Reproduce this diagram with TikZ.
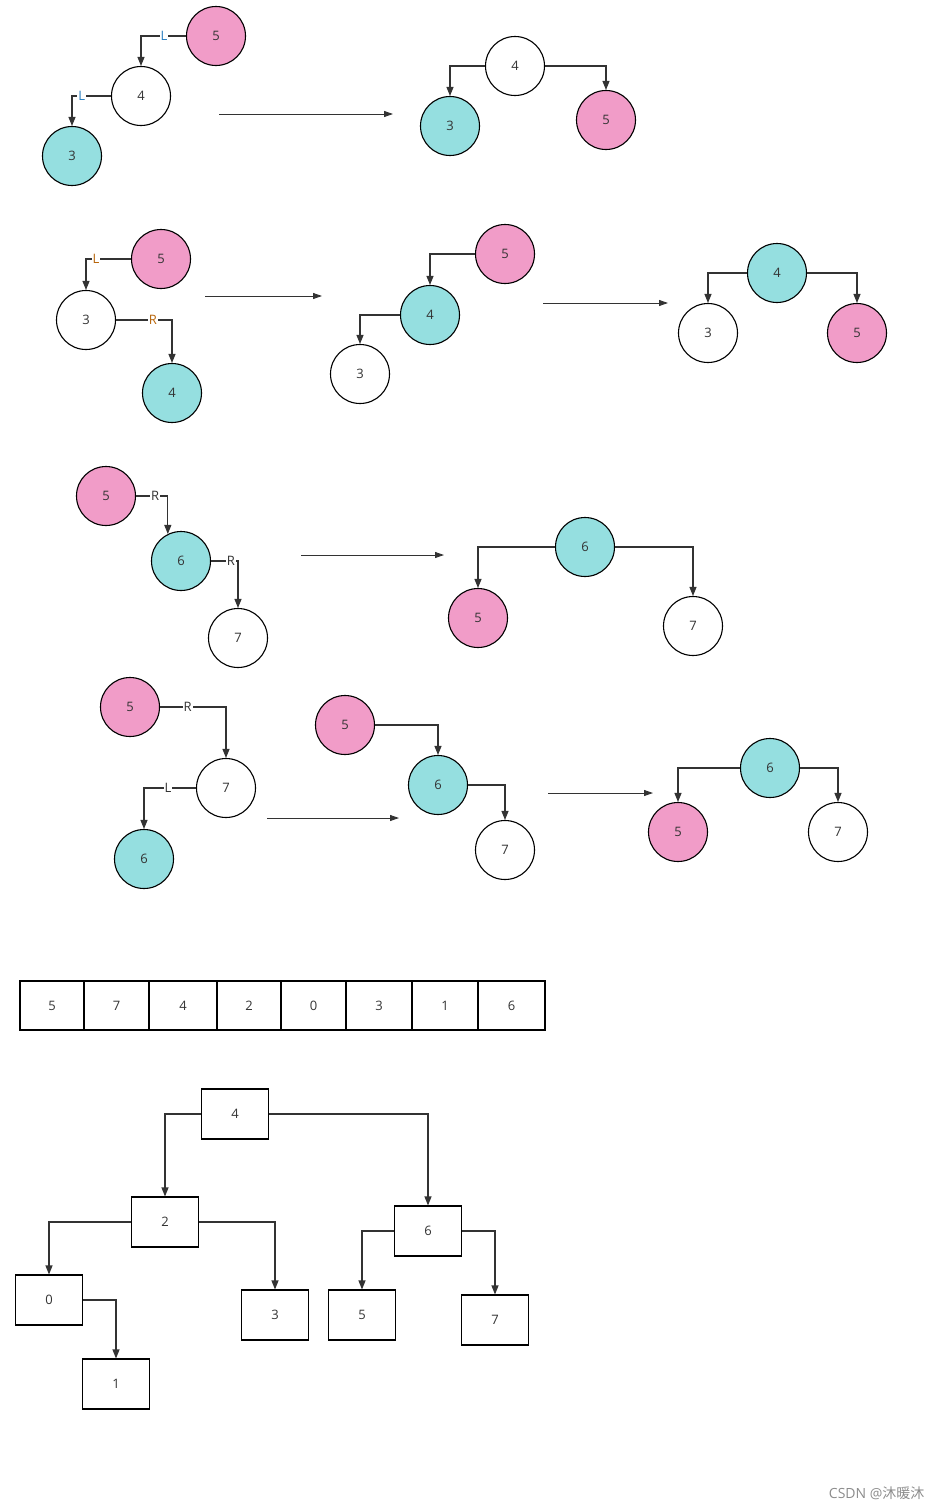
\documentclass[tikz,border=0pt]{standalone}
\usepackage{fontspec}
\setmainfont{Open Sans}
\newfontfamily\cjkfont{Noto Sans CJK SC}
\usetikzlibrary{arrows.meta}
\definecolor{pinkc}{HTML}{F19CC8}
\definecolor{cyanc}{HTML}{95DFE0}
\definecolor{linec}{HTML}{333333}
\definecolor{lblue}{HTML}{2A7FC0}
\definecolor{lorange}{HTML}{B8650A}
\begin{document}
\begin{tikzpicture}[x=1pt,y=-1pt,
  font=\fontsize{13}{15}\selectfont, text=linec,
  tn/.style={circle,draw=black,line width=1.1pt,minimum size=59pt,inner sep=0pt},
  pk/.style={tn,fill=pinkc},
  cy/.style={tn,fill=cyanc},
  wt/.style={tn,fill=white},
  bx/.style={rectangle,draw=black,line width=1.1pt,minimum width=67pt,minimum height=50pt,inner sep=0pt},
  cell/.style={rectangle,draw=black,line width=1.1pt,minimum height=49pt,inner sep=0pt},
  ed/.style={draw=linec,line width=1.1pt,-{Triangle[length=9pt,width=7pt]}},
  big/.style={draw=linec,line width=0.9pt,-{Triangle[length=9pt,width=6pt]}},
  lb/.style={fill=white,inner sep=1pt,font=\fontsize{13}{15}\selectfont}
]
\useasboundingbox (0,0) rectangle (942,1510);

% ---------- group 1
\node[pk] (a5) at (216,36) {5};
\node[wt] (a4) at (141,96) {4};
\node[cy] (a3) at (72,156) {3};
\draw[ed] (a5.west) -| node[lb,pos=0.245,text=lblue] {L} (a4.north);
\draw[ed] (a4.west) -| node[lb,pos=0.375,text=lblue] {L} (a3.north);
\coordinate (ar1s) at (219,114); \coordinate (ar1e) at (393,114);
\draw[big] (ar1s) -- (ar1e);
\node[wt] (b4) at (515,66) {4};
\node[cy] (b3) at (450,126) {3};
\node[pk] (b5) at (606,120) {5};
\draw[ed] (b4.west) -| (b3.north);
\draw[ed] (b4.east) -| (b5.north);

% ---------- group 2
\node[pk] (c5) at (161,259) {5};
\node[wt] (c3) at (86,320) {3};
\node[cy] (c4) at (172,393) {4};
\draw[ed] (c5.west) -| node[lb,pos=0.39,text=lorange] {L} (c3.north);
\draw[ed] (c3.east) -| node[lb,pos=0.33,text=lorange] {R} (c4.north);
\coordinate (ar2s) at (205,296); \coordinate (ar2e) at (322,296);
\draw[big] (ar2s) -- (ar2e);
\node[pk] (d5) at (505,254) {5};
\node[cy] (d4) at (430,315) {4};
\node[wt] (d3) at (360,374) {3};
\draw[ed] (d5.west) -| (d4.north);
\draw[ed] (d4.west) -| (d3.north);
\coordinate (ar3s) at (543,303); \coordinate (ar3e) at (668,303);
\draw[big] (ar3s) -- (ar3e);
\node[cy] (e4) at (777,273) {4};
\node[wt] (e3) at (708,333) {3};
\node[pk] (e5) at (857,333) {5};
\draw[ed] (e4.west) -| (e3.north);
\draw[ed] (e4.east) -| (e5.north);

% ---------- group 3
\node[pk] (f5) at (106,496) {5};
\node[cy] (f6) at (181,561) {6};
\node[wt] (f7) at (238,638) {7};
\draw[ed] (f5.east) -| node[lb,pos=0.3] {R} (f6.116);
\draw[ed] (f6.east) -| node[lb,pos=0.37] {R} (f7.north);
\coordinate (ar4s) at (301,555); \coordinate (ar4e) at (444,555);
\draw[big] (ar4s) -- (ar4e);
\node[cy] (g6) at (585,547) {6};
\node[pk] (g5) at (478,618) {5};
\node[wt] (g7) at (693,626) {7};
\draw[ed] (g6.west) -| (g5.north);
\draw[ed] (g6.east) -| (g7.north);

% ---------- group 4
\node[pk] (h5) at (130,707) {5};
\node[wt] (h7) at (226,788) {7};
\node[cy] (h6) at (144,859) {6};
\draw[ed] (h5.east) -| node[lb,pos=0.21] {R} (h7.north);
\draw[ed] (h7.west) -| node[lb,pos=0.27] {L} (h6.north);
\coordinate (ar5s) at (267,818); \coordinate (ar5e) at (399,818);
\draw[big] (ar5s) -- (ar5e);
\node[pk] (i5) at (345,725) {5};
\node[cy] (i6) at (438,785) {6};
\node[wt] (i7) at (505,850) {7};
\draw[ed] (i5.east) -| (i6.north);
\draw[ed] (i6.east) -| (i7.north);
\coordinate (ar6s) at (548,793); \coordinate (ar6e) at (653,793);
\draw[big] (ar6s) -- (ar6e);
\node[cy] (j6) at (770,768) {6};
\node[pk] (j5) at (678,832) {5};
\node[wt] (j7) at (838,832) {7};
\draw[ed] (j6.west) -| (j5.north);
\draw[ed] (j6.east) -| (j7.north);

% ---------- array
\foreach \xa/\xb/\v [count=\i] in {20/84/5,84/149/7,149/217/4,217/281/2,281/346/0,346/412/3,412/478/1,478/545/6}{
  \node[cell,minimum width={\xb-\xa}] (arr\i) at ({(\xa+\xb)/2},1005.5) {\v};
}

% ---------- bottom tree
\node[bx] (t4) at (235,1114) {4};
\node[bx] (t2) at (165,1222) {2};
\node[bx] (t6) at (428,1231) {6};
\node[bx] (t0) at (49,1300) {0};
\node[bx] (t3) at (275,1315) {3};
\node[bx] (t5) at (362,1315) {5};
\node[bx] (t7) at (495,1320) {7};
\node[bx] (t1) at (116,1384) {1};
\draw[ed] (t4.west) -| (t2.north);
\draw[ed] (t4.east) -| (t6.north);
\draw[ed] (t2.west) -| (t0.north);
\draw[ed] (t2.east) -| (t3.north);
\draw[ed] (t6.west) -| (t5.north);
\draw[ed] (t6.east) -| (t7.north);
\draw[ed] (t0.east) -| (t1.north);

% ---------- watermark
\node[text=black!45,font=\fontsize{14}{16}\selectfont,anchor=east] (wm) at (928,1493) {CSDN @{\cjkfont 沐暖沐}};
\end{tikzpicture}
\end{document}
